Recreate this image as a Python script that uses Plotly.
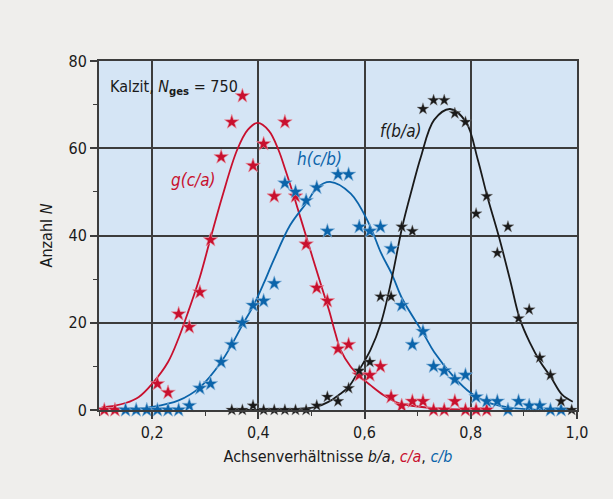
import plotly.graph_objects as go

# ---- star data (histogram counts) ----
red_x = [0.11, 0.13, 0.21, 0.23, 0.25, 0.27, 0.29, 0.31, 0.33, 0.35, 0.37, 0.39, 0.41, 0.43, 0.45,
         0.47, 0.49, 0.51, 0.53, 0.55, 0.57, 0.59, 0.61, 0.63, 0.65, 0.67, 0.69, 0.71, 0.73, 0.75,
         0.77, 0.79, 0.81, 0.83]
red_y = [0, 0, 6, 4, 22, 19, 27, 39, 58, 66, 72, 56, 61, 49, 66,
         49, 38, 28, 25, 14, 15, 8, 8, 10, 3, 1, 2, 2, 0, 0,
         2, 0, 0, 0]

blue_x = [0.15, 0.17, 0.19, 0.21, 0.23, 0.25, 0.27, 0.29, 0.31, 0.33, 0.35, 0.37, 0.39, 0.41, 0.43,
          0.45, 0.47, 0.49, 0.51, 0.53, 0.55, 0.57, 0.59, 0.61, 0.63, 0.65, 0.67, 0.69, 0.71, 0.73,
          0.75, 0.77, 0.79, 0.81, 0.83, 0.85, 0.87, 0.89, 0.91, 0.93, 0.95, 0.97]
blue_y = [0, 0, 0, 0, 0, 0, 1, 5, 6, 11, 15, 20, 24, 25, 29,
          52, 50, 48, 51, 41, 54, 54, 42, 41, 42, 37, 24, 15, 18, 10,
          9, 7, 8, 3, 2, 2, 0, 2, 1, 1, 0, 0]

black_x = [0.35, 0.37, 0.39, 0.41, 0.43, 0.45, 0.47, 0.49, 0.51, 0.53, 0.55, 0.57, 0.59, 0.61, 0.63,
           0.65, 0.67, 0.69, 0.71, 0.73, 0.75, 0.77, 0.79, 0.81, 0.83, 0.85, 0.87, 0.89, 0.91, 0.93,
           0.95, 0.97, 0.99]
black_y = [0, 0, 1, 0, 0, 0, 0, 0, 1, 3, 2, 5, 9, 11, 26,
           26, 42, 41, 69, 71, 71, 68, 66, 45, 49, 36, 42, 21, 23, 12,
           8, 2, 0]

# ---- fitted curves ----
g_x = [0.105, 0.13, 0.15, 0.175, 0.20, 0.23, 0.25, 0.269, 0.29, 0.309, 0.332, 0.36, 0.38, 0.399,
       0.42, 0.438, 0.451, 0.467, 0.495, 0.52, 0.533, 0.545, 0.555, 0.574, 0.59, 0.611, 0.636,
       0.666, 0.70, 0.743, 0.79, 0.83]
g_y = [0.6, 1.0, 1.6, 3.0, 6.0, 11.0, 16.5, 22.9, 30.5, 38.9, 48.9, 59.6, 64.2, 65.8,
       64.0, 59.6, 55.0, 49.0, 37.8, 27.9, 22.9, 17.6, 13.7, 9.9, 7.8, 5.7, 3.4,
       1.5, 0.8, 0.3, 0.1, 0.0]

h_x = [0.15, 0.20, 0.25, 0.29, 0.33, 0.35, 0.37, 0.391, 0.41, 0.429, 0.46, 0.492, 0.511, 0.535,
       0.574, 0.608, 0.631, 0.652, 0.671, 0.711, 0.731, 0.768, 0.80, 0.831, 0.87, 0.92, 0.99]
h_y = [0.1, 0.7, 2.2, 5.2, 11.0, 15.0, 19.5, 24.0, 29.0, 34.4, 42.4, 47.7, 51.0, 52.3,
       49.6, 42.8, 36.0, 31.0, 25.5, 17.5, 13.3, 7.6, 3.9, 1.8, 0.6, 0.1, 0.0]

f_x = [0.35, 0.45, 0.492, 0.511, 0.531, 0.551, 0.57, 0.59, 0.611, 0.631, 0.651, 0.671, 0.69,
       0.706, 0.731, 0.761, 0.791, 0.813, 0.831, 0.853, 0.874, 0.892, 0.911, 0.931, 0.951,
       0.972, 0.992]
f_y = [0.0, 0.1, 0.4, 0.8, 1.8, 3.4, 5.3, 9.2, 13.7, 20.0, 30.0, 42.0, 51.0,
       58.0, 66.5, 69.0, 66.0, 57.5, 49.0, 39.7, 29.8, 21.0, 15.5, 11.0, 7.5,
       3.5, 1.9]

x_ticks = [0.2, 0.4, 0.6, 0.8, 1.0]
x_ticklabels = ["0,2", "0,4", "0,6", "0,8", "1,0"]
y_ticks = [0, 20, 40, 60, 80]

RED = "#c8102e"
BLUE = "#0b64aa"
BLACK = "#1a1a1a"
FONT = "Liberation Sans Narrow, DejaVu Sans Condensed, Arial Narrow, sans-serif"

fig = go.Figure()

for cx, cy, col in [(g_x, g_y, RED), (h_x, h_y, BLUE), (f_x, f_y, BLACK)]:
    fig.add_trace(go.Scatter(x=cx, y=cy, mode="lines", line=dict(color=col, width=1.8, shape="spline", smoothing=1.0),
                             hoverinfo="skip", showlegend=False, cliponaxis=True))

fig.add_trace(go.Scatter(x=red_x, y=red_y, mode="markers",
                         marker=dict(symbol="star", size=11, color=RED, line=dict(color="#e89aa6", width=0.6)),
                         showlegend=False, cliponaxis=False))
fig.add_trace(go.Scatter(x=blue_x, y=blue_y, mode="markers",
                         marker=dict(symbol="star", size=11, color=BLUE, line=dict(color="#8fb8dc", width=0.6)),
                         showlegend=False, cliponaxis=False))
fig.add_trace(go.Scatter(x=black_x, y=black_y, mode="markers",
                         marker=dict(symbol="star", size=9, color=BLACK, line=dict(color="#888888", width=0.4)),
                         showlegend=False, cliponaxis=False))

fig.add_annotation(x=0.117, y=74, xref="x", yref="y", xanchor="left", yanchor="middle", showarrow=False,
                   text="Kalzit, <i>N</i><sub><b>ges</b></sub> = 750", font=dict(family=FONT, size=16, color=BLACK))
fig.add_annotation(x=0.277, y=52.7, showarrow=False, text="<i>g(c/a)</i>", font=dict(family=FONT, size=17, color=RED))
fig.add_annotation(x=0.515, y=57.5, showarrow=False, text="<i>h(c/b)</i>", font=dict(family=FONT, size=17, color=BLUE))
fig.add_annotation(x=0.668, y=63.9, showarrow=False, text="<i>f(b/a)</i>", font=dict(family=FONT, size=17, color=BLACK))

fig.update_layout(
    width=613, height=499,
    margin=dict(l=99, r=36, t=61, b=89),
    paper_bgcolor="#efeeec",
    plot_bgcolor="#d5e5f5",
    font=dict(family=FONT, size=15, color=BLACK),
    showlegend=False,
    xaxis=dict(range=[0.1, 1.0], tickvals=x_ticks, ticktext=x_ticklabels,
               showgrid=True, gridcolor="#3c3c3c", gridwidth=1.5,
               showline=True, linecolor="#3c3c3c", linewidth=2, mirror=True,
               ticks="outside", ticklen=7, tickwidth=1.5, tickcolor="#3c3c3c",
               minor=dict(tickvals=[0.1, 0.3, 0.5, 0.7, 0.9], ticklen=4, tickwidth=1.2, tickcolor="#3c3c3c", showgrid=False),
               zeroline=False,
               tickfont=dict(family=FONT, size=16),
               title=dict(text="Achsenverhältnisse <i>b/a</i>, <span style='color:#c8102e'><i>c/a</i></span>, <span style='color:#0b64aa'><i>c/b</i></span>",
                          font=dict(family=FONT, size=16), standoff=10)),
    yaxis=dict(range=[0, 80], tickvals=y_ticks,
               showgrid=True, gridcolor="#3c3c3c", gridwidth=1.5,
               showline=True, linecolor="#3c3c3c", linewidth=2, mirror=True,
               ticks="outside", ticklen=7, tickwidth=1.5, tickcolor="#3c3c3c",
               minor=dict(tickvals=[10, 30, 50, 70], ticklen=4, tickwidth=1.2, tickcolor="#3c3c3c", showgrid=False),
               zeroline=False,
               tickfont=dict(family=FONT, size=16),
               title=dict(text="Anzahl <i>N</i>", font=dict(family=FONT, size=16), standoff=12)),
)

fig.write_html("out.html", config={"displayModeBar": False},
               post_script="document.body.style.margin='0';document.body.style.background='#efeeec';")
